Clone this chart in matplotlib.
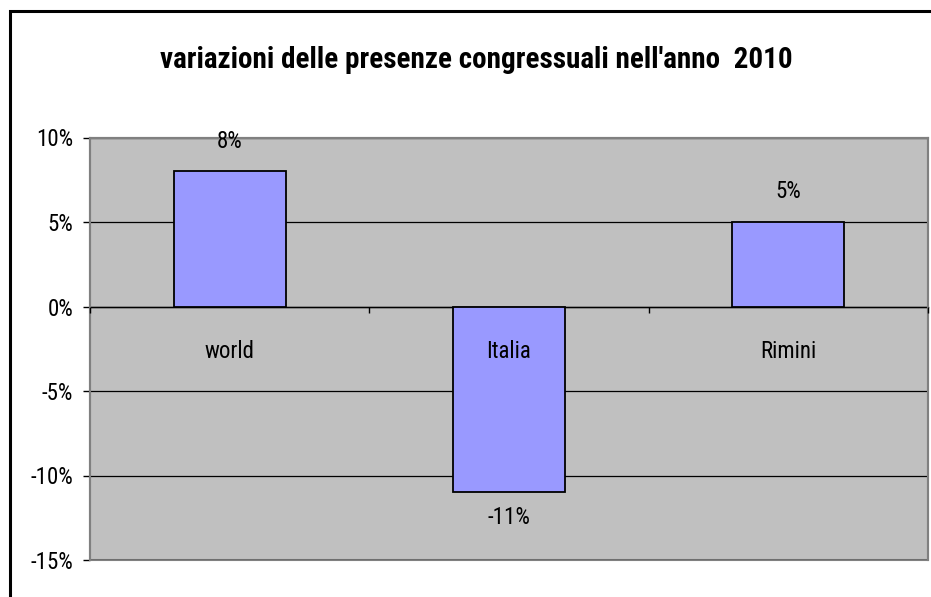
import matplotlib
matplotlib.use("Agg")
import matplotlib.pyplot as plt
from matplotlib.patches import Rectangle
from matplotlib.ticker import FixedLocator, FuncFormatter

categories = ["world", "Italia", "Rimini"]
values = [0.08, -0.11, 0.05]
value_labels = ["8%", "-11%", "5%"]
title = "variazioni delle presenze congressuali nell'anno  2010"

FAM = ["Roboto Condensed", "Liberation Sans", "DejaVu Sans"]
plt.rcParams["font.family"] = FAM

W, H = 931, 597
fig = plt.figure(figsize=(W / 100, H / 100), dpi=100)
fig.patch.set_facecolor("white")

# figure border (extends past right and bottom)
fig.add_artist(Rectangle((10 / W, -0.1), 1.2, 1 - 11 / H + 0.1, transform=fig.transFigure,
                         fill=False, edgecolor="black", linewidth=2.2))

L, R, T, B = 90, 928, 137.5, 560
ax = fig.add_axes([L / W, 1 - B / H, (R - L) / W, (B - T) / H])
ax.set_facecolor("#C0C0C0")

x = list(range(len(categories)))
ax.bar(x, values, width=0.4, color="#9999FF", edgecolor="black", linewidth=1.3, zorder=3)

ax.set_xlim(-0.5, 2.5)
ax.set_ylim(-0.15, 0.10)
ax.yaxis.set_major_locator(FixedLocator([-0.15, -0.10, -0.05, 0.0, 0.05, 0.10]))
ax.yaxis.set_major_formatter(FuncFormatter(lambda v, p: f"{int(round(v * 100))}%"))
ax.grid(axis="y", color="black", linewidth=0.9, zorder=1)
ax.set_axisbelow(True)

for s in ["top", "right", "left"]:
    ax.spines[s].set_color("#808080")
    ax.spines[s].set_linewidth(1.5)
ax.spines["bottom"].set_position(("data", 0))
ax.spines["bottom"].set_color("black")
ax.spines["bottom"].set_linewidth(1.0)
ax.spines["bottom"].set_zorder(2)
ax.add_patch(Rectangle((0, 0), 1, 1, transform=ax.transAxes, fill=False,
                       edgecolor="#808080", linewidth=1.5, zorder=0.5, clip_on=False))

ax.set_xticks(x)
ax.set_xticklabels(categories)
ax.tick_params(axis="x", which="major", length=0, pad=24, labelsize=16.5)
ax.xaxis.set_minor_locator(FixedLocator([-0.5, 0.5, 1.5, 2.5]))
ax.tick_params(axis="x", which="minor", length=4, width=1, color="black", direction="out")
ax.tick_params(axis="y", length=5, width=1, color="black", labelsize=16.5, pad=7)
ax.xaxis.set_zorder(5)

for xi, v, lab in zip(x, values, value_labels):
    off = 30 if v > 0 else -25
    ax.annotate(lab, (xi, v), xytext=(0, off), textcoords="offset pixels",
                ha="center", va="center", fontsize=16.5, zorder=4)

fig.text(476 / W, 1 - 60 / H, title, ha="center", va="center", fontsize=21, fontweight="bold")

fig.savefig("out.png", dpi=100)
